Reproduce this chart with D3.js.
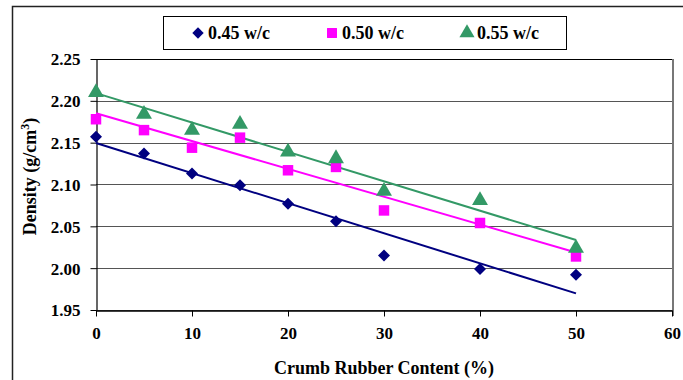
<!DOCTYPE html>
<html><head><meta charset="utf-8">
<script src="https://cdn.jsdelivr.net/npm/d3@7"></script>
<style>body{margin:0;background:#fff}svg{display:block}svg text{font-family:"Liberation Serif","Times New Roman",serif !important;font-weight:bold}</style>
</head><body><svg id="c" width="683" height="380"></svg>
<script>
const xValues = [0, 5, 10, 15, 20, 25, 30, 40, 50];
const series045 = [2.157, 2.137, 2.113, 2.099, 2.077, 2.056, 2.015, 1.999, 1.992];
const series050 = [2.178, 2.165, 2.144, 2.156, 2.117, 2.121, 2.069, 2.054, 2.014];
const series055 = [2.210, 2.184, 2.165, 2.172, 2.139, 2.131, 2.092, 2.081, 2.024];
const seriesNames = ["0.45 w/c", "0.50 w/c", "0.55 w/c"];
const yTicks = [1.95, 2.00, 2.05, 2.10, 2.15, 2.20, 2.25];
const xTicks = [0, 10, 20, 30, 40, 50, 60];

const colors = ["#000080", "#ff00ff", "#339966"];
const diamond = { draw(ctx, size) { const r = Math.sqrt(size / 2); ctx.moveTo(0, -r); ctx.lineTo(r, 0); ctx.lineTo(0, r); ctx.lineTo(-r, 0); ctx.closePath(); } };
const shapes = [diamond, d3.symbolSquare, d3.symbolTriangle];
const sizes = [72, 110, 110];
const allSeries = [series045, series050, series055];

const svg = d3.select("#c");
const L = 96, R = 672, T = 59, B = 310;
const x = d3.scaleLinear().domain([0, 60]).range([L, R]);
const y = d3.scaleLinear().domain([1.95, 2.25]).range([B, T]);

// outer border
svg.append("path").attr("d", `M12.5,${380}V6.5H683`).attr("fill", "none").attr("stroke", "#222").attr("stroke-width", 1.5);

// grid
svg.append("g").selectAll("line").data(yTicks).join("line")
  .attr("x1", L).attr("x2", R).attr("y1", d => Math.round(y(d)) + 0.5).attr("y2", d => Math.round(y(d)) + 0.5)
  .attr("stroke", d => d === 2.25 ? "#000" : "#555").attr("stroke-width", 1.2);
// right border
svg.append("line").attr("x1", R + 1).attr("x2", R + 1).attr("y1", T).attr("y2", B + 6).attr("stroke", "#777").attr("stroke-width", 2);

// axes
const yAxis = d3.axisLeft(y).tickValues(yTicks).tickFormat(d3.format(".2f")).tickSize(6).tickSizeOuter(0);
const gy = svg.append("g").attr("transform", `translate(${L + 0.5},0)`).call(yAxis);
gy.selectAll("text").attr("font-size", 17).attr("fill", "#000").attr("x", -16).attr("dy", "0.35em");
gy.select(".domain").attr("stroke", "#000").attr("stroke-width", 1.2);

const xAxis = d3.axisBottom(x).tickValues(xTicks).tickFormat(d3.format("d")).tickSize(6).tickSizeOuter(0);
const gx = svg.append("g").attr("transform", `translate(0,${B + 0.5})`).call(xAxis);
gx.selectAll("text").attr("font-size", 17).attr("fill", "#000").attr("y", 16);
gx.select(".domain").attr("stroke", "#000").attr("stroke-width", 1.5);

// trendlines (linear least squares)
allSeries.forEach((s, i) => {
  const n = xValues.length;
  const mx = d3.mean(xValues), my = d3.mean(s);
  let sxy = 0, sxx = 0;
  for (let k = 0; k < n; k++) { sxy += (xValues[k] - mx) * (s[k] - my); sxx += (xValues[k] - mx) ** 2; }
  const b = sxy / sxx, a = my - b * mx;
  const x0 = d3.min(xValues), x1 = d3.max(xValues);
  svg.append("line").attr("x1", x(x0)).attr("y1", y(a + b * x0)).attr("x2", x(x1)).attr("y2", y(a + b * x1))
    .attr("stroke", colors[i]).attr("stroke-width", 2);
});

// markers
allSeries.forEach((s, i) => {
  svg.append("g").selectAll("path").data(s).join("path")
    .attr("d", d3.symbol().type(shapes[i]).size(sizes[i]))
    .attr("transform", (d, k) => `translate(${x(xValues[k])},${y(d)})`)
    .attr("fill", colors[i]);
});

// axis titles
svg.append("text").attr("x", x(30)).attr("y", 374).attr("text-anchor", "middle").attr("font-size", 18).text("Crumb Rubber Content (%)");
const yt = svg.append("text").attr("transform", `translate(36,${(T + B) / 2 - 8}) rotate(-90)`).attr("text-anchor", "middle").attr("font-size", 18);
yt.append("tspan").text("Density (g/cm");
yt.append("tspan").attr("dy", -7).attr("font-size", 12).text("3");
yt.append("tspan").attr("dy", 7).text(")");

// legend
const lg = svg.append("g");
lg.append("rect").attr("x", 163.5).attr("y", 16.5).attr("width", 403).attr("height", 33).attr("fill", "#fff").attr("stroke", "#000").attr("stroke-width", 1);
const lx = [198, 332, 467];
seriesNames.forEach((nm, i) => {
  lg.append("path").attr("d", d3.symbol().type(shapes[i]).size(sizes[i] * 0.9)).attr("transform", `translate(${lx[i]},${33})`).attr("fill", colors[i]);
  lg.append("text").attr("x", lx[i] + 10).attr("y", 39).attr("font-size", 18).text(nm);
});
</script></body></html>
